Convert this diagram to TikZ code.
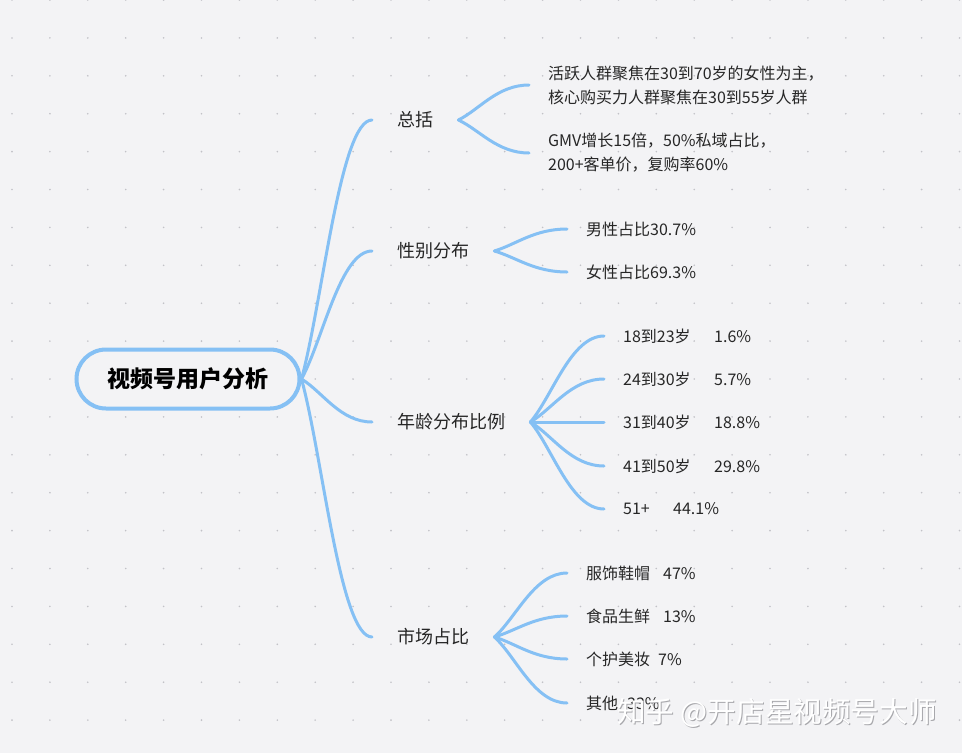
\documentclass[tikz,border=0pt]{standalone}
\usepackage{fontspec}
\setmainfont{Noto Sans CJK SC}
\usetikzlibrary{calc}
\definecolor{bg}{HTML}{F3F3F5}
\definecolor{dotc}{HTML}{C2C2C7}
\definecolor{blu}{HTML}{85C0F4}
\definecolor{txt}{HTML}{262626}
\definecolor{wmgray}{HTML}{A8A8AC}
\newcommand\linkto[2]{\draw[conn] let \p1=(#1), \p2=(#2) in (\p1) .. controls ({\x1+0.3*(\x2-\x1)},{\y1+0.3*(\y2-\y1)}) and ({\x1+0.55*(\x2-\x1)},{\y2}) .. (\p2);}
\begin{document}
\begin{tikzpicture}[x=1pt,y=-1pt,
 conn/.style={draw=blu,line width=3pt,line cap=round},
 rootnode/.style={draw=blu,line width=4pt,rounded corners=29.5pt,minimum width=223pt,minimum height=59pt,fill=bg,text=black,font=\fontsize{23pt}{28pt}\selectfont\bfseries},
 topic/.style={anchor=west,inner xsep=25pt,inner ysep=0pt,text=txt,font=\fontsize{18pt}{22pt}\selectfont},
 leaf/.style={anchor=west,inner xsep=19pt,inner ysep=0pt,text=txt,align=left,font=\fontsize{16pt}{24pt}\selectfont},
 wm/.style={anchor=west,inner sep=0pt,font=\fontsize{28.6pt}{32pt}\selectfont}]
\fill[bg] (0,0) rectangle (962,753);
\useasboundingbox (0,0) rectangle (962,753);
\foreach \i in {0,...,25}{\foreach \j in {0,...,20}{\fill[dotc] ({12+37.9*\i},{37.9*\j}) circle (0.9pt);}}

\node[rootnode] (root) at (188,379) {视频号用户分析};

\node[topic] (t1) at (372,120) {总括};
\node[topic] (t2) at (372,251) {性别分布};
\node[topic] (t3) at (372,422) {年龄分布比例};
\node[topic] (t4) at (372,637) {市场占比};

\node[leaf] (a1) at (529,85) {活跃人群聚焦在30到70岁的女性为主，\\核心购买力人群聚焦在30到55岁人群};
\node[leaf] (a2) at (529,153) {GMV增长15倍，50\%私域占比，\\200+客单价，复购率60\%};

\node[leaf] (b1) at (567,229) {男性占比30.7\%};
\node[leaf] (b2) at (567,272) {女性占比69.3\%};

\node[leaf] (c1) at (604,336) {\makebox[91pt][l]{18到23岁}1.6\%};
\node[leaf] (c2) at (604,379) {\makebox[91pt][l]{24到30岁}5.7\%};
\node[leaf] (c3) at (604,422) {\makebox[91pt][l]{31到40岁}18.8\%};
\node[leaf] (c4) at (604,466) {\makebox[91pt][l]{41到50岁}29.8\%};
\node[leaf] (c5) at (604,509) {\makebox[50pt][l]{51+}44.1\%};

\node[leaf] (d1) at (567,573) {\makebox[77pt][l]{服饰鞋帽}47\%};
\node[leaf] (d2) at (567,616) {\makebox[77pt][l]{食品生鲜}13\%};
\node[leaf] (d3) at (567,659) {\makebox[72pt][l]{个护美妆}7\%};
\node[leaf] (d4) at (567,703) {\makebox[41pt][l]{其他}33\%};

\linkto{root.east}{t1.west}
\linkto{root.east}{t2.west}
\linkto{root.east}{t3.west}
\linkto{root.east}{t4.west}

\linkto{t1.east}{a1.west}
\linkto{t1.east}{a2.west}
\linkto{t2.east}{b1.west}
\linkto{t2.east}{b2.west}
\foreach \c in {c1,c2,c3,c4,c5}{\linkto{t3.east}{\c.west}}
\foreach \d in {d1,d2,d3,d4}{\linkto{t4.east}{\d.west}}

\node[wm,text=wmgray] (wmshadow) at (618,714) {知乎 @开店星视频号大师};
\node[wm,text=white] (wmark) at (617,713) {知乎 @开店星视频号大师};
\end{tikzpicture}
\end{document}
